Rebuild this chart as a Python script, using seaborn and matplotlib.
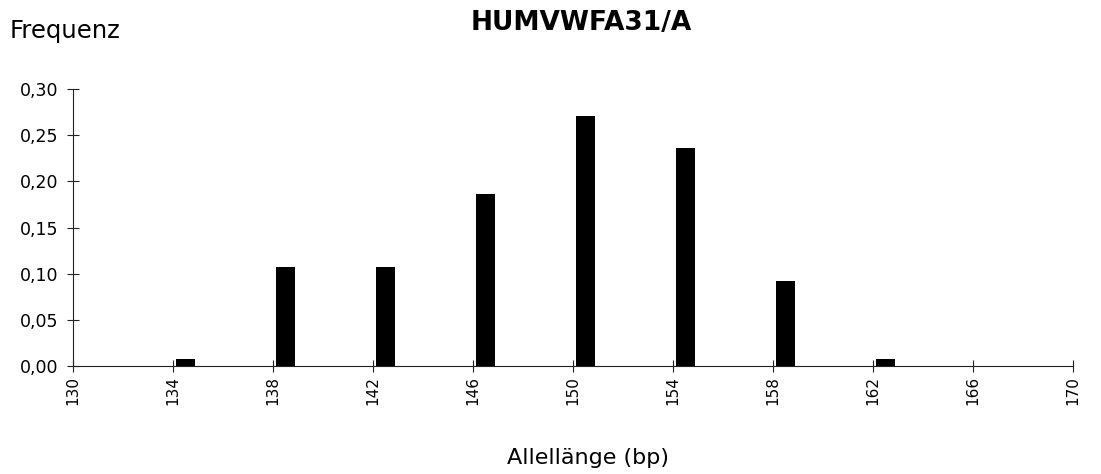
import pandas as pd
import seaborn as sns
import matplotlib.pyplot as plt

# allele lengths (bp) and their frequencies
allele = [134, 138, 142, 146, 150, 154, 158, 162]
freq = [0.007, 0.107, 0.107, 0.186, 0.271, 0.236, 0.092, 0.007]
xticks = list(range(130, 171, 4))
yticks = [0.00, 0.05, 0.10, 0.15, 0.20, 0.25, 0.30]

sns.set_style('white')
plt.rcParams['font.family'] = ['DejaVu Sans']
plt.rcParams['text.color'] = 'black'
plt.rcParams['xtick.color'] = 'black'
plt.rcParams['ytick.color'] = 'black'

fig = plt.figure(figsize=(11.01, 4.74), dpi=100)
ax = fig.add_axes([0.0663, 0.228, 0.9083, 0.584])

# bars sit in the slot right of each tick (category axis look)
df = pd.DataFrame({'pos': [a + 0.5 for a in allele], 'freq': freq})
sns.barplot(data=df, x='pos', y='freq', native_scale=True, width=0.19,
            color='black', edgecolor='black', linewidth=0, ax=ax)

ax.set_xlim(130, 170)
ax.set_ylim(0, 0.30)
ax.set_xticks(xticks)
ax.set_xticklabels([str(t) for t in xticks], rotation=90, fontsize=11)
ax.set_yticks(yticks)
ax.set_yticklabels([f'{v:.2f}'.replace('.', ',') for v in yticks], fontsize=12.5)
ax.set_xlabel('')
ax.set_ylabel('')

sns.despine(ax=ax)
for s in ['left', 'bottom']:
    ax.spines[s].set_linewidth(0.8)
    ax.spines[s].set_color('#222222')
ax.tick_params(axis='both', direction='inout', length=9, width=0.8,
               color='#222222', labelcolor='black', bottom=True, left=True)
ax.tick_params(axis='y', pad=6)
ax.tick_params(axis='x', pad=3)

fig.text(0.528, 0.952, 'HUMVWFA31/A', ha='center', va='center',
         fontsize=19, fontweight='bold', color='black')
fig.text(0.009, 0.934, 'Frequenz', ha='left', va='center', fontsize=17.5,
         color='black')
fig.text(0.534, 0.034, 'Allellänge (bp)', ha='center', va='center',
         fontsize=16, color='black')

fig.savefig('out.png', dpi=100)
